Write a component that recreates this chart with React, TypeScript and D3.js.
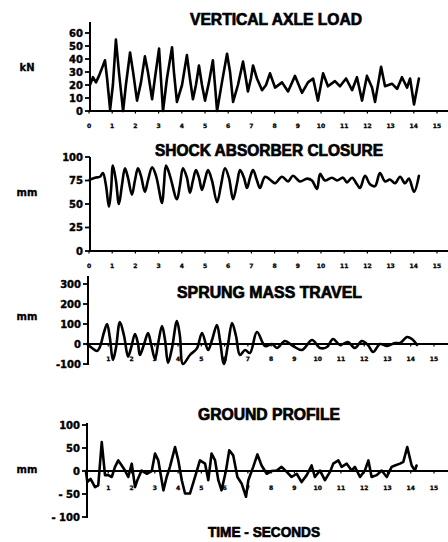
import React from "react";
import * as d3 from "d3";

// ---------- data ----------
const timeTickLabels = [0, 1, 2, 3, 4, 5, 6, 7, 8, 9, 10, 11, 12, 13, 14, 15];

const axleTicks = [0, 10, 20, 30, 40, 50, 60];
const shockTicks = [0, 25, 50, 75, 100];
const sprungTicks = [-100, 0, 100, 200, 300];
const groundTicks = [-100, -50, 0, 50, 100];
const groundTickText = ["- 100", "- 50", "0", "50", "100"];

const axleTime = [0.04, 0.17, 0.3, 0.43, 0.56, 0.69, 0.78, 0.91, 1.03, 1.16, 1.29, 1.47, 1.59, 1.77, 1.9, 2.07, 2.24, 2.41, 2.54, 2.72, 2.84, 3.02, 3.1, 3.19, 3.36, 3.58, 3.66, 3.79, 4.01, 4.22, 4.35, 4.48, 4.61, 4.74, 4.87, 5.0, 5.17, 5.34, 5.43, 5.52, 5.73, 5.95, 6.08, 6.21, 6.42, 6.64, 6.77, 6.85, 6.98, 7.07, 7.24, 7.46, 7.63, 7.8, 8.02, 8.32, 8.58, 8.88, 9.18, 9.44, 9.66, 9.87, 10.09, 10.3, 10.6, 10.82, 11.08, 11.34, 11.55, 11.77, 11.98, 12.2, 12.33, 12.59, 12.76, 13.06, 13.28, 13.49, 13.71, 13.84, 14.01, 14.22];
const axleLoad = [20, 26, 22, 27, 33, 39, 25, 1, 20, 55, 30, 0, 20, 45, 30, 8, 22, 42, 30, 9, 25, 48, 25, 0, 25, 49, 30, 7, 20, 43, 25, 9, 20, 35, 20, 8, 22, 39, 20, 0, 22, 44, 30, 7, 20, 38, 24, 15, 25, 35, 25, 16, 20, 29, 18, 22, 15, 27, 14, 22, 25, 8, 29, 19, 23, 19, 25, 16, 26, 8, 27, 18, 7, 34, 19, 21, 17, 26, 18, 25, 5, 25];

const shockTime = [0.04, 0.26, 0.47, 0.6, 0.73, 0.86, 0.95, 1.03, 1.16, 1.29, 1.42, 1.55, 1.68, 1.85, 1.98, 2.11, 2.24, 2.41, 2.54, 2.72, 2.89, 3.15, 3.23, 3.32, 3.49, 3.79, 3.92, 4.05, 4.22, 4.35, 4.48, 4.61, 4.74, 4.87, 5.0, 5.13, 5.3, 5.52, 5.69, 5.86, 6.03, 6.21, 6.38, 6.51, 6.68, 6.81, 6.94, 7.07, 7.24, 7.37, 7.59, 7.89, 8.02, 8.32, 8.58, 8.79, 9.09, 9.4, 9.61, 9.83, 9.96, 10.17, 10.47, 10.69, 10.95, 11.12, 11.34, 11.55, 11.68, 11.9, 12.11, 12.33, 12.54, 12.76, 12.97, 13.19, 13.41, 13.62, 13.79, 14.01, 14.22];
const shockClosure = [76, 78, 79, 83, 70, 47, 65, 91, 75, 50, 70, 88, 78, 60, 75, 88, 80, 63, 75, 89, 80, 51, 70, 91, 80, 55, 70, 88, 78, 62, 75, 86, 78, 65, 76, 86, 75, 52, 70, 88, 78, 55, 72, 86, 78, 67, 78, 86, 75, 67, 79, 74, 72, 79, 74, 80, 74, 77, 75, 66, 82, 75, 78, 75, 78, 73, 78, 71, 67, 80, 71, 69, 83, 74, 76, 72, 79, 72, 77, 63, 80];

const sprungTime = [0.09, 0.3, 0.52, 0.64, 0.82, 0.95, 1.07, 1.2, 1.33, 1.5, 1.68, 1.85, 1.98, 2.15, 2.28, 2.36, 2.54, 2.71, 2.84, 3.01, 3.14, 3.31, 3.44, 3.57, 3.74, 3.95, 4.08, 4.21, 4.51, 4.81, 5.03, 5.29, 5.46, 5.67, 5.8, 5.97, 6.15, 6.32, 6.49, 6.66, 6.88, 7.09, 7.39, 7.74, 8.04, 8.25, 8.59, 8.94, 9.33, 9.76, 10.1, 10.4, 10.66, 10.96, 11.3, 11.6, 11.9, 12.16, 12.38, 12.68, 12.98, 13.32, 13.54, 13.84, 14.05, 14.27];
const sprungTravel = [0, -20, -35, -15, 60, 100, 30, -80, -20, 110, 40, -63, -20, 50, 0, -55, 0, 55, 0, -75, 0, 90, 20, -95, -20, 115, 40, -100, -55, -22, 55, -30, 20, 95, 20, -100, 0, 105, 40, -55, -30, -45, 60, -10, 0, -20, 15, -10, -30, 20, -20, -15, 25, -5, 10, -20, 15, -5, -40, 0, -10, 5, 5, 35, 25, -5];

const groundTime = [0.04, 0.1, 0.24, 0.43, 0.57, 0.72, 0.86, 1.0, 1.15, 1.29, 1.43, 1.58, 1.72, 1.86, 2.01, 2.15, 2.25, 2.43, 2.65, 2.87, 3.01, 3.15, 3.37, 3.51, 3.65, 3.87, 4.01, 4.16, 4.3, 4.51, 4.73, 4.94, 5.16, 5.3, 5.44, 5.59, 5.73, 5.87, 6.06, 6.2, 6.37, 6.55, 6.73, 6.92, 7.02, 7.23, 7.41, 7.59, 7.81, 8.02, 8.24, 8.45, 8.67, 8.88, 9.1, 9.31, 9.53, 9.74, 9.88, 10.1, 10.31, 10.53, 10.67, 10.89, 11.03, 11.25, 11.46, 11.6, 11.82, 12.03, 12.18, 12.32, 12.54, 12.75, 12.97, 13.18, 13.32, 13.54, 13.68, 13.85, 14.04, 14.18, 14.25];
const groundProfile = [0, -24, -17, -35, -31, 63, -9, -9, -13, 9, 23, 12, 1, -13, 16, -35, -20, 1, -6, 0, 38, 23, -42, -13, 9, 52, 23, -20, -49, -49, -13, 23, 16, -20, 38, 23, -20, -42, 1, 45, 34, -13, -27, -56, -20, 9, 36, 12, -6, 0, 1, 9, -2, -13, -6, -24, -9, 12, -13, 1, -20, -2, 16, 23, 9, 16, 1, 9, -13, 1, 23, -13, -9, 1, -13, 9, 12, 16, 20, 52, 12, 1, 12];

// ---------- drawing ----------
const W = 448;
const H = 542;
const INK = "#000";
const FONT = "'DejaVu Sans', 'Liberation Sans', sans-serif";

type PanelProps = {
  title: string;
  titleX: [number, number];
  titleY: number;
  unit: string;
  unitY: number;
  times: number[];
  values: number[];
  yDomain: [number, number];
  yRange: [number, number];
  yTicks: number[];
  yTickText?: string[];
  axisX: number;
  axisTop: number;
  axisBottom: number;
  baseValue: number;
  xRange: [number, number];
  xLabelY: number;
  xLabels: number[];
  curve: d3.CurveFactory;
};

function Panel(p: PanelProps) {
  const x = d3.scaleLinear().domain([0, 15]).range(p.xRange);
  const y = d3.scaleLinear().domain(p.yDomain).range(p.yRange);
  const line = d3
    .line<number>()
    .x((_, i) => x(p.times[i]))
    .y((d) => y(d))
    .curve(p.curve);
  const baseY = y(p.baseValue);
  return (
    <g>
      <text
        x={p.titleX[0]}
        y={p.titleY}
        textLength={p.titleX[1] - p.titleX[0]}
        lengthAdjust="spacingAndGlyphs"
        fontFamily="'Liberation Sans', Arial, sans-serif"
        fontWeight="bold"
        fontSize={16}
        fill={INK}
        stroke={INK}
        strokeWidth={0.7}
      >
        {p.title}
      </text>
      <text
        x={27}
        y={p.unitY}
        textAnchor="middle"
        dominantBaseline="middle"
        fontFamily={FONT}
        fontWeight="bold"
        fontSize={10}
        fill={INK}
        stroke={INK}
        strokeWidth={0.3}
      >
        {p.unit}
      </text>
      {/* y axis */}
      <line x1={p.axisX} x2={p.axisX} y1={p.axisTop} y2={p.axisBottom} stroke={INK} strokeWidth={2} />
      {p.yTicks.map((t, i) => (
        <g key={"yt" + t}>
          <line x1={p.axisX - 5} x2={p.axisX} y1={y(t)} y2={y(t)} stroke={INK} strokeWidth={1.8} />
          <text
            x={p.axisX - 7}
            y={y(t)}
            textAnchor="end"
            dominantBaseline="central"
            fontFamily={FONT}
            fontWeight="bold"
            fontSize={10}
            fill={INK}
            stroke={INK}
            strokeWidth={0.4}
          >
            {p.yTickText ? p.yTickText[i] : String(t)}
          </text>
        </g>
      ))}
      {/* x axis / zero line */}
      <line x1={p.axisX} x2={W} y1={baseY} y2={baseY} stroke={INK} strokeWidth={2} />
      {p.xLabels.map((t) => (
        <g key={"xt" + t}>
          <line x1={x(t)} x2={x(t)} y1={baseY} y2={baseY + 2.5} stroke={INK} strokeWidth={1.2} />
          <text
            x={x(t)}
            y={p.xLabelY}
            textAnchor="middle"
            dominantBaseline="central"
            fontFamily={FONT}
            fontWeight="bold"
            fontSize={6}
            fill={INK}
            stroke={INK}
            strokeWidth={0.3}
          >
            {t}
          </text>
        </g>
      ))}
      <path
        d={line(p.values) || ""}
        fill="none"
        stroke={INK}
        strokeWidth={2.6}
        strokeLinejoin="round"
        strokeLinecap="round"
      />
    </g>
  );
}

export default function App() {
  return (
    <svg
      width={W}
      height={H}
      viewBox={`0 0 ${W} ${H}`}
      style={{ position: "absolute", left: 0, top: 0, background: "#fff" }}
    >
      <rect x={0} y={0} width={W} height={H} fill="#fff" />
      <Panel
        title="VERTICAL AXLE LOAD"
        titleX={[190, 362]}
        titleY={24.5}
        unit="kN"
        unitY={68}
        times={axleTime}
        values={axleLoad}
        yDomain={[0, 60]}
        yRange={[111, 33]}
        yTicks={axleTicks}
        axisX={90}
        axisTop={22}
        axisBottom={112}
        baseValue={0}
        xRange={[89, 437]}
        xLabelY={125}
        xLabels={timeTickLabels}
        curve={d3.curveLinear}
      />
      <Panel
        title="SHOCK ABSORBER CLOSURE"
        titleX={[155, 383]}
        titleY={156}
        unit="mm"
        unitY={193}
        times={shockTime}
        values={shockClosure}
        yDomain={[0, 100]}
        yRange={[251, 157]}
        yTicks={shockTicks}
        axisX={90}
        axisTop={157}
        axisBottom={252}
        baseValue={0}
        xRange={[89, 437]}
        xLabelY={265}
        xLabels={timeTickLabels}
        curve={d3.curveCatmullRom.alpha(0.5)}
      />
      <Panel
        title="SPRUNG MASS TRAVEL"
        titleX={[177, 362]}
        titleY={298}
        unit="mm"
        unitY={317}
        times={sprungTime}
        values={sprungTravel}
        yDomain={[-100, 300]}
        yRange={[364, 284]}
        yTicks={sprungTicks}
        axisX={88}
        axisTop={276}
        axisBottom={365}
        baseValue={0}
        xRange={[85, 434]}
        xLabelY={358}
        xLabels={timeTickLabels.slice(1)}
        curve={d3.curveCatmullRom.alpha(0.5)}
      />
      <Panel
        title="GROUND PROFILE"
        titleX={[198, 340]}
        titleY={420}
        unit="mm"
        unitY={470}
        times={groundTime}
        values={groundProfile}
        yDomain={[-100, 100]}
        yRange={[517, 425]}
        yTicks={groundTicks}
        yTickText={groundTickText}
        axisX={87}
        axisTop={423}
        axisBottom={518}
        baseValue={0}
        xRange={[85, 434]}
        xLabelY={487}
        xLabels={timeTickLabels.slice(1)}
        curve={d3.curveLinear}
      />
      <text
        x={208}
        y={537}
        textLength={112}
        lengthAdjust="spacingAndGlyphs"
        fontFamily="'Liberation Sans', Arial, sans-serif"
        fontWeight="bold"
        fontSize={15}
        fill={INK}
        stroke={INK}
        strokeWidth={0.7}
      >
        TIME - SECONDS
      </text>
    </svg>
  );
}
